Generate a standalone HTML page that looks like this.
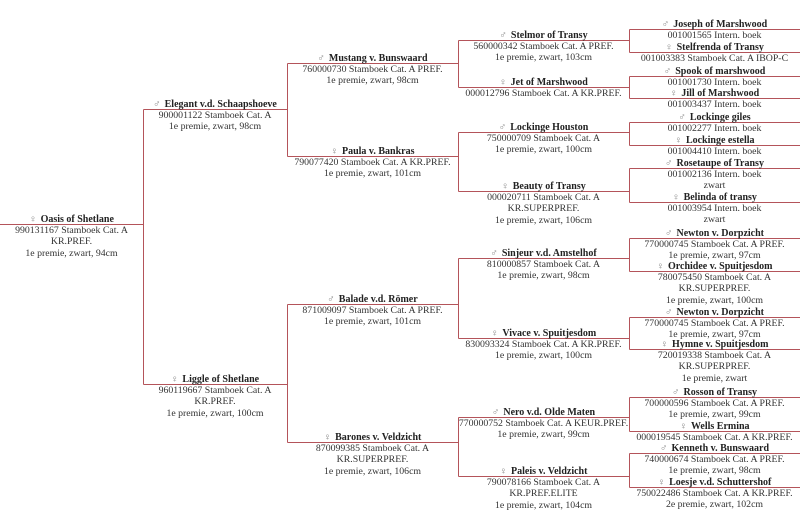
<!DOCTYPE html>
<html><head><meta charset="utf-8"><style>
html,body{margin:0;padding:0;background:#fff;}
body{width:800px;height:530px;position:relative;overflow:hidden;font-family:"Liberation Serif",serif;font-size:9.8px;color:#333;}
.n{position:absolute;text-align:center;line-height:11.3px;white-space:nowrap;margin-top:1.5px;}
.h{height:11.5px;line-height:11.5px;}
.n b{color:#222;font-size:10px;}
.g{color:#888;font-size:10px;margin-right:4px;}
svg{position:absolute;left:0;top:0;}
</style></head><body>
<svg width="800" height="530">
<g stroke="#b4545a" stroke-width="1" fill="none" shape-rendering="crispEdges">
<path d="M0 224.5H143.5"/>
<path d="M143.5 109.5V384.5M143.5 109.5H287.5M143.5 384.5H287.5"/>
<path d="M287.5 63.5V156.5M287.5 63.5H458.5M287.5 156.5H458.5"/>
<path d="M287.5 304.5V442.5M287.5 304.5H458.5M287.5 442.5H458.5"/>
<path d="M458.5 40.5V87.5M458.5 40.5H629.5M458.5 87.5H629.5"/>
<path d="M458.5 132.5V191.5M458.5 132.5H629.5M458.5 191.5H629.5"/>
<path d="M458.5 258.5V338.5M458.5 258.5H629.5M458.5 338.5H629.5"/>
<path d="M458.5 417.5V476.5M458.5 417.5H629.5M458.5 476.5H629.5"/>
<path d="M629.5 29.5V52.5M629.5 29.5H800M629.5 52.5H800"/>
<path d="M629.5 76.5V98.5M629.5 76.5H800M629.5 98.5H800"/>
<path d="M629.5 122.5V145.5M629.5 122.5H800M629.5 145.5H800"/>
<path d="M629.5 168.5V202.5M629.5 168.5H800M629.5 202.5H800"/>
<path d="M629.5 238.5V271.5M629.5 238.5H800M629.5 271.5H800"/>
<path d="M629.5 317.5V349.5M629.5 317.5H800M629.5 349.5H800"/>
<path d="M629.5 397.5V431.5M629.5 397.5H800M629.5 431.5H800"/>
<path d="M629.5 453.5V487.5M629.5 453.5H800M629.5 487.5H800"/>
</g></svg>

<div class="n" style="left:0;width:143px;top:212px"><div class="h"><span class="g">♀</span><b>Oasis of Shetlane</b></div>990131167 Stamboek Cat. A<br>KR.PREF.<br>1e premie, zwart, 94cm</div>

<div class="n" style="left:143px;width:144px;top:97px"><div class="h"><span class="g">♂</span><b>Elegant v.d. Schaapshoeve</b></div>900001122 Stamboek Cat. A<br>1e premie, zwart, 98cm</div>
<div class="n" style="left:143px;width:144px;top:372px"><div class="h"><span class="g">♀</span><b>Liggle of Shetlane</b></div>960119667 Stamboek Cat. A<br>KR.PREF.<br>1e premie, zwart, 100cm</div>

<div class="n" style="left:287px;width:171px;top:51px"><div class="h"><span class="g">♂</span><b>Mustang v. Bunswaard</b></div>760000730 Stamboek Cat. A PREF.<br>1e premie, zwart, 98cm</div>
<div class="n" style="left:287px;width:171px;top:144px"><div class="h"><span class="g">♀</span><b>Paula v. Bankras</b></div>790077420 Stamboek Cat. A KR.PREF.<br>1e premie, zwart, 101cm</div>
<div class="n" style="left:287px;width:171px;top:292px"><div class="h"><span class="g">♂</span><b>Balade v.d. Römer</b></div>871009097 Stamboek Cat. A PREF.<br>1e premie, zwart, 101cm</div>
<div class="n" style="left:287px;width:171px;top:430px"><div class="h"><span class="g">♀</span><b>Barones v. Veldzicht</b></div>870099385 Stamboek Cat. A<br>KR.SUPERPREF.<br>1e premie, zwart, 106cm</div>

<div class="n" style="left:458px;width:171px;top:28px"><div class="h"><span class="g">♂</span><b>Stelmor of Transy</b></div>560000342 Stamboek Cat. A PREF.<br>1e premie, zwart, 103cm</div>
<div class="n" style="left:458px;width:171px;top:75px"><div class="h"><span class="g">♀</span><b>Jet of Marshwood</b></div>000012796 Stamboek Cat. A KR.PREF.</div>
<div class="n" style="left:458px;width:171px;top:120px"><div class="h"><span class="g">♂</span><b>Lockinge Houston</b></div>750000709 Stamboek Cat. A<br>1e premie, zwart, 100cm</div>
<div class="n" style="left:458px;width:171px;top:179px"><div class="h"><span class="g">♀</span><b>Beauty of Transy</b></div>000020711 Stamboek Cat. A<br>KR.SUPERPREF.<br>1e premie, zwart, 106cm</div>
<div class="n" style="left:458px;width:171px;top:246px"><div class="h"><span class="g">♂</span><b>Sinjeur v.d. Amstelhof</b></div>810000857 Stamboek Cat. A<br>1e premie, zwart, 98cm</div>
<div class="n" style="left:458px;width:171px;top:326px"><div class="h"><span class="g">♀</span><b>Vivace v. Spuitjesdom</b></div>830093324 Stamboek Cat. A KR.PREF.<br>1e premie, zwart, 100cm</div>
<div class="n" style="left:458px;width:171px;top:405px"><div class="h"><span class="g">♂</span><b>Nero v.d. Olde Maten</b></div>770000752 Stamboek Cat. A KEUR.PREF.<br>1e premie, zwart, 99cm</div>
<div class="n" style="left:458px;width:171px;top:464px"><div class="h"><span class="g">♀</span><b>Paleis v. Veldzicht</b></div>790078166 Stamboek Cat. A<br>KR.PREF.ELITE<br>1e premie, zwart, 104cm</div>

<div class="n" style="left:629px;width:171px;top:17px"><div class="h"><span class="g">♂</span><b>Joseph of Marshwood</b></div>001001565 Intern. boek</div>
<div class="n" style="left:629px;width:171px;top:40px"><div class="h"><span class="g">♀</span><b>Stelfrenda of Transy</b></div>001003383 Stamboek Cat. A IBOP-C</div>
<div class="n" style="left:629px;width:171px;top:64px"><div class="h"><span class="g">♂</span><b>Spook of marshwood</b></div>001001730 Intern. boek</div>
<div class="n" style="left:629px;width:171px;top:86px"><div class="h"><span class="g">♀</span><b>Jill of Marshwood</b></div>001003437 Intern. boek</div>
<div class="n" style="left:629px;width:171px;top:110px"><div class="h"><span class="g">♂</span><b>Lockinge giles</b></div>001002277 Intern. boek</div>
<div class="n" style="left:629px;width:171px;top:133px"><div class="h"><span class="g">♀</span><b>Lockinge estella</b></div>001004410 Intern. boek</div>
<div class="n" style="left:629px;width:171px;top:156px"><div class="h"><span class="g">♂</span><b>Rosetaupe of Transy</b></div>001002136 Intern. boek<br>zwart</div>
<div class="n" style="left:629px;width:171px;top:190px"><div class="h"><span class="g">♀</span><b>Belinda of transy</b></div>001003954 Intern. boek<br>zwart</div>
<div class="n" style="left:629px;width:171px;top:226px"><div class="h"><span class="g">♂</span><b>Newton v. Dorpzicht</b></div>770000745 Stamboek Cat. A PREF.<br>1e premie, zwart, 97cm</div>
<div class="n" style="left:629px;width:171px;top:259px"><div class="h"><span class="g">♀</span><b>Orchidee v. Spuitjesdom</b></div>780075450 Stamboek Cat. A<br>KR.SUPERPREF.<br>1e premie, zwart, 100cm</div>
<div class="n" style="left:629px;width:171px;top:305px"><div class="h"><span class="g">♂</span><b>Newton v. Dorpzicht</b></div>770000745 Stamboek Cat. A PREF.<br>1e premie, zwart, 97cm</div>
<div class="n" style="left:629px;width:171px;top:337px"><div class="h"><span class="g">♀</span><b>Hymne v. Spuitjesdom</b></div>720019338 Stamboek Cat. A<br>KR.SUPERPREF.<br>1e premie, zwart</div>
<div class="n" style="left:629px;width:171px;top:385px"><div class="h"><span class="g">♂</span><b>Rosson of Transy</b></div>700000596 Stamboek Cat. A PREF.<br>1e premie, zwart, 99cm</div>
<div class="n" style="left:629px;width:171px;top:419px"><div class="h"><span class="g">♀</span><b>Wells Ermina</b></div>000019545 Stamboek Cat. A KR.PREF.</div>
<div class="n" style="left:629px;width:171px;top:441px"><div class="h"><span class="g">♂</span><b>Kenneth v. Bunswaard</b></div>740000674 Stamboek Cat. A PREF.<br>1e premie, zwart, 98cm</div>
<div class="n" style="left:629px;width:171px;top:475px"><div class="h"><span class="g">♀</span><b>Loesje v.d. Schuttershof</b></div>750022486 Stamboek Cat. A KR.PREF.<br>2e premie, zwart, 102cm</div>
</body></html>
